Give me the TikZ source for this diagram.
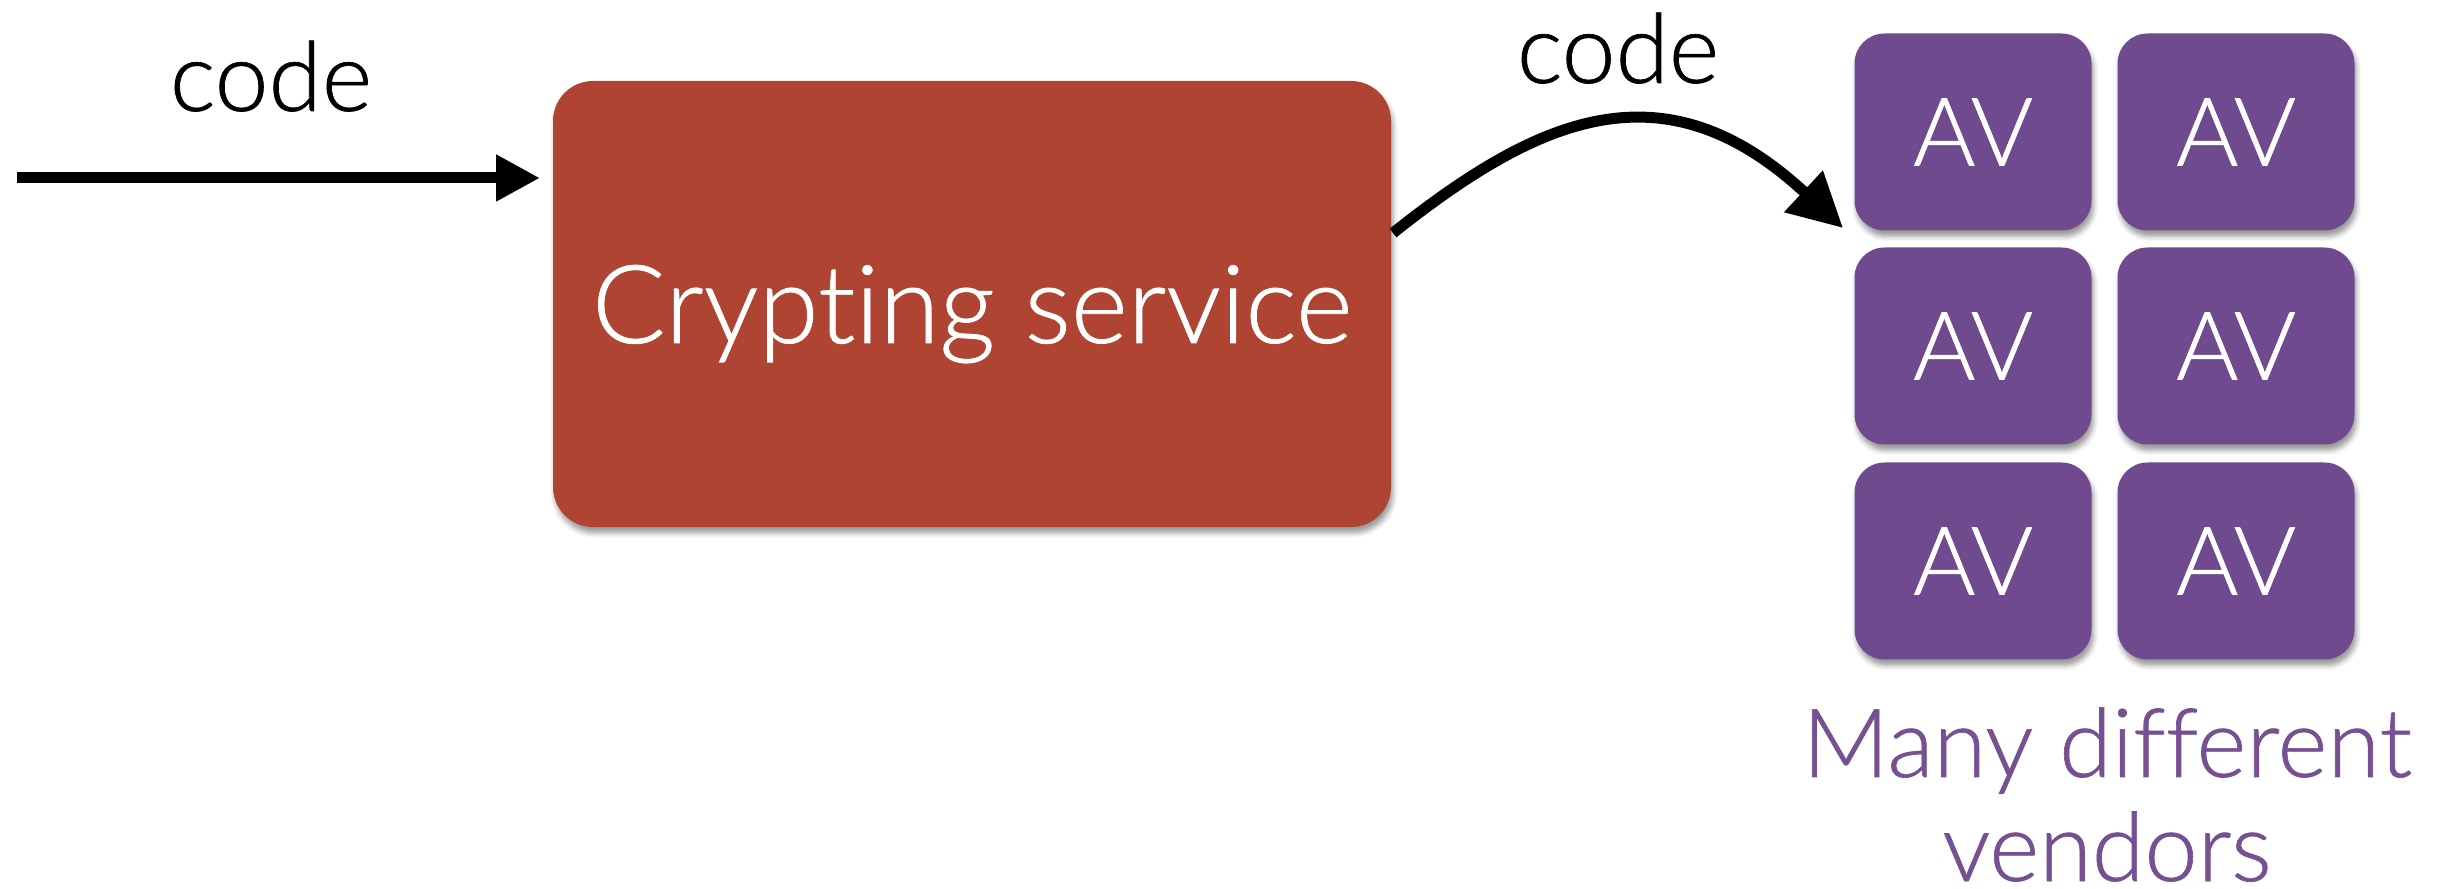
\documentclass[tikz,border=0pt]{standalone}
\usepackage{fontspec}
\setmainfont{Lato Light}[Ligatures=NoCommon,FakeBold=0.7,BoldFont={Lato Light}]
\usetikzlibrary{arrows.meta,shadows.blur}
\definecolor{cryptred}{RGB}{176,68,50}
\definecolor{avpurple}{RGB}{112,74,142}
\definecolor{vendortext}{RGB}{117,80,146}
\begin{document}
\begin{tikzpicture}[x=0.1mm,y=-0.1mm,
  every node/.style={font=\bfseries},
  boxshadow/.style={blur shadow={shadow xshift=0.2mm,shadow yshift=-0.6mm,
      shadow blur radius=0.5mm,shadow opacity=40}},
  cryptbox/.style={rectangle,rounded corners=4mm,fill=cryptred,
      minimum width=83.8mm,minimum height=44.6mm,inner sep=0pt,
      text=white,font=\fontsize{31pt}{37pt}\bfseries,text depth=0pt,boxshadow},
  avbox/.style={rectangle,rounded corners=3mm,fill=avpurple,
      minimum width=23.7mm,minimum height=19.7mm,inner sep=0pt,
      text=white,font=\fontsize{27pt}{32pt}\bfseries,boxshadow},
  flowlabel/.style={font=\fontsize{27.5pt}{33pt}\bfseries,anchor=base,inner sep=0pt},
  vendorlabel/.style={font=\fontsize{27.2pt}{29.6pt}\bfseries,text=vendortext,
      align=center,anchor=base,inner sep=0pt},
  flow/.style={line width=1.1mm,-{Triangle[length=4.4mm,width=4.4mm]}},
  bentflow/.style={line width=1.1mm,-{Triangle[length=5.4mm,width=5.4mm]}},
]
\useasboundingbox (0,0) rectangle (2452,889);

% the crypting service
\node[cryptbox] (crypt) at (972,304) {Crypting service};

% grid of antivirus engines
\node[avbox] (av11) at (1973,132) {AV};
\node[avbox] (av12) at (2236,132) {AV};
\node[avbox] (av21) at (1973,346) {AV};
\node[avbox] (av22) at (2236,346) {AV};
\node[avbox] (av31) at (1973,561) {AV};
\node[avbox] (av32) at (2236,561) {AV};

% incoming code
\coordinate (src) at (17,178);
\coordinate (cryptin) at (540,178);
\draw[flow] (src) -- (cryptin);
\node[flowlabel] (codein) at (271,111) {code};

% crypted code handed to the scanners
\coordinate (cryptout) at (1393,233);
\coordinate (avin) at (1843,228);
\draw[bentflow] (cryptout) .. controls (1539,117) and (1664,62) .. (avin);
\node[flowlabel] (codeout) at (1618,83) {code};

% caption under the grid (base anchor sits on the last line)
\node[vendorlabel] (vendors) at (2107,881) {Many different\\vendors};
\end{tikzpicture}
\end{document}
